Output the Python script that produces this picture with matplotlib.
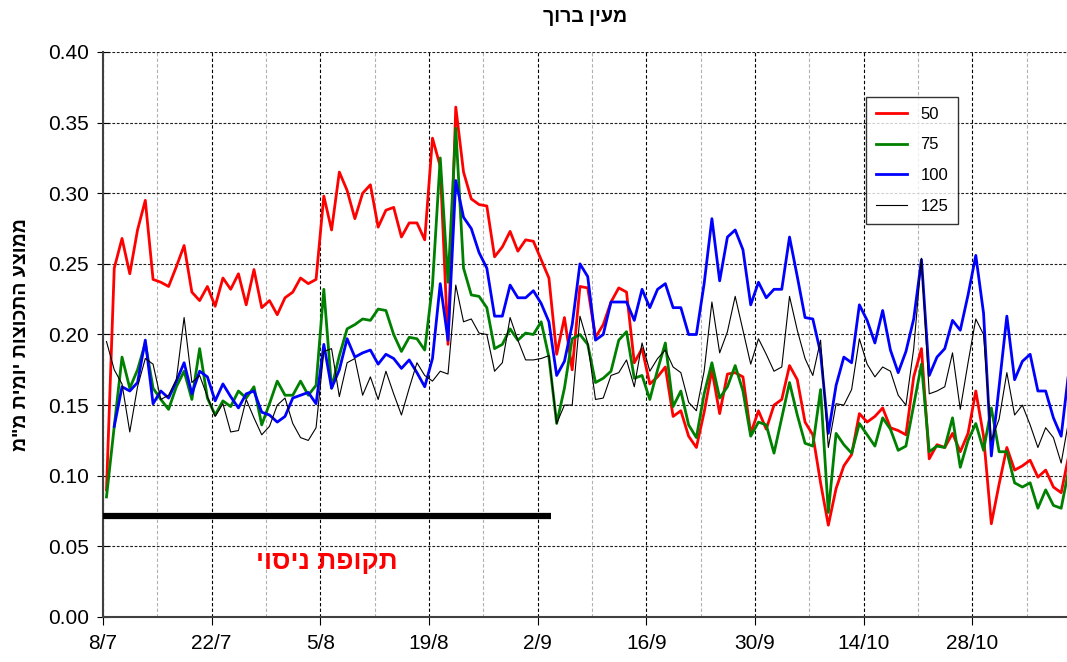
import numpy as np
import matplotlib
matplotlib.use("Agg")
import matplotlib.pyplot as plt
from matplotlib.ticker import MultipleLocator, FixedLocator

plt.rcParams['font.family'] = ['Liberation Sans', 'DejaVu Sans']

title = "מעין ברוך"
ylabel = 'ממוצע התכוצות יומית מ"מ'
period_label = "תקופת ניסוי"
series_names = ["50", "75", "100", "125"]
tick_labels = ["8/7", "22/7", "5/8", "19/8", "2/9", "16/9", "30/9", "14/10", "28/10"]

s50 = [0.090, 0.247, 0.268, 0.243, 0.274, 0.295, 0.239, 0.237, 0.234, 0.248,
       0.263, 0.230, 0.224, 0.234, 0.220, 0.240, 0.232, 0.243, 0.221, 0.246,
       0.219, 0.224, 0.214, 0.226, 0.230, 0.240, 0.236, 0.239, 0.298, 0.274,
       0.315, 0.302, 0.282, 0.300, 0.306, 0.276, 0.288, 0.290, 0.269, 0.279,
       0.279, 0.267, 0.339, 0.319, 0.193, 0.361, 0.315, 0.296, 0.292, 0.291,
       0.255, 0.262, 0.273, 0.259, 0.267, 0.266, 0.253, 0.240, 0.186, 0.212,
       0.175, 0.234, 0.233, 0.198, 0.207, 0.223, 0.233, 0.230, 0.180, 0.190,
       0.165, 0.170, 0.177, 0.142, 0.146, 0.128, 0.120, 0.145, 0.175, 0.144,
       0.172, 0.173, 0.170, 0.130, 0.146, 0.133, 0.150, 0.154, 0.178, 0.168,
       0.138, 0.129, 0.095, 0.065, 0.091, 0.107, 0.115, 0.144, 0.138, 0.142,
       0.148, 0.134, 0.132, 0.129, 0.170, 0.190, 0.112, 0.122, 0.120, 0.130,
       0.117, 0.130, 0.160, 0.128, 0.066, 0.094, 0.120, 0.104, 0.107, 0.111,
       0.099, 0.104, 0.092, 0.088, 0.115]

s75 = [0.085, 0.135, 0.184, 0.162, 0.175, 0.194, 0.162, 0.154, 0.147, 0.163,
       0.174, 0.154, 0.190, 0.155, 0.143, 0.153, 0.149, 0.160, 0.155, 0.163,
       0.136, 0.151, 0.167, 0.157, 0.157, 0.167, 0.157, 0.164, 0.232, 0.162,
       0.185, 0.204, 0.207, 0.211, 0.210, 0.218, 0.217, 0.200, 0.188, 0.198,
       0.197, 0.189, 0.235, 0.325, 0.237, 0.346, 0.247, 0.228, 0.227, 0.219,
       0.190, 0.193, 0.204, 0.196, 0.201, 0.200, 0.209, 0.184, 0.137, 0.162,
       0.197, 0.200, 0.193, 0.166, 0.169, 0.174, 0.196, 0.202, 0.169, 0.171,
       0.154, 0.175, 0.194, 0.149, 0.160, 0.136, 0.127, 0.158, 0.180, 0.155,
       0.163, 0.178, 0.160, 0.128, 0.138, 0.136, 0.116, 0.141, 0.166, 0.143,
       0.123, 0.121, 0.161, 0.074, 0.130, 0.122, 0.116, 0.137, 0.129, 0.121,
       0.141, 0.133, 0.118, 0.121, 0.150, 0.179, 0.117, 0.121, 0.120, 0.141,
       0.106, 0.125, 0.137, 0.118, 0.148, 0.117, 0.117, 0.095, 0.092, 0.095,
       0.077, 0.090, 0.079, 0.077, 0.105]

s100 = [np.nan, 0.135, 0.163, 0.160, 0.166, 0.196, 0.151, 0.160, 0.155, 0.167,
        0.180, 0.158, 0.174, 0.170, 0.153, 0.165, 0.156, 0.148, 0.158, 0.160,
        0.145, 0.143, 0.138, 0.142, 0.155, 0.157, 0.159, 0.151, 0.193, 0.162,
        0.175, 0.197, 0.184, 0.187, 0.189, 0.179, 0.186, 0.183, 0.176, 0.182,
        0.173, 0.163, 0.183, 0.236, 0.196, 0.309, 0.283, 0.275, 0.258, 0.247,
        0.213, 0.213, 0.235, 0.226, 0.226, 0.231, 0.222, 0.209, 0.171, 0.181,
        0.207, 0.250, 0.241, 0.196, 0.200, 0.223, 0.223, 0.223, 0.210, 0.232,
        0.219, 0.232, 0.236, 0.219, 0.219, 0.200, 0.200, 0.236, 0.282, 0.238,
        0.269, 0.274, 0.260, 0.221, 0.237, 0.226, 0.232, 0.232, 0.269, 0.241,
        0.212, 0.211, 0.187, 0.130, 0.164, 0.184, 0.180, 0.221, 0.210, 0.194,
        0.217, 0.189, 0.173, 0.188, 0.211, 0.253, 0.171, 0.184, 0.190, 0.210,
        0.203, 0.228, 0.256, 0.215, 0.114, 0.163, 0.213, 0.168, 0.181, 0.186,
        0.160, 0.160, 0.141, 0.128, 0.175]

s125 = [0.195, 0.175, 0.165, 0.131, 0.163, 0.183, 0.179, 0.154, 0.157, 0.168,
        0.212, 0.166, 0.171, 0.156, 0.142, 0.151, 0.131, 0.132, 0.154, 0.141,
        0.129, 0.135, 0.150, 0.155, 0.137, 0.127, 0.125, 0.134, 0.188, 0.190,
        0.156, 0.180, 0.183, 0.157, 0.170, 0.154, 0.174, 0.158, 0.143, 0.162,
        0.180, 0.171, 0.167, 0.174, 0.172, 0.235, 0.209, 0.211, 0.201, 0.200,
        0.174, 0.180, 0.212, 0.196, 0.182, 0.182, 0.183, 0.185, 0.137, 0.150,
        0.150, 0.213, 0.194, 0.154, 0.155, 0.171, 0.173, 0.182, 0.163, 0.194,
        0.174, 0.183, 0.189, 0.177, 0.173, 0.152, 0.146, 0.174, 0.223, 0.187,
        0.202, 0.227, 0.203, 0.179, 0.197, 0.186, 0.174, 0.177, 0.227, 0.203,
        0.183, 0.171, 0.196, 0.120, 0.151, 0.150, 0.161, 0.197, 0.179, 0.170,
        0.177, 0.174, 0.157, 0.150, 0.190, 0.254, 0.158, 0.160, 0.163, 0.187,
        0.147, 0.180, 0.211, 0.200, 0.125, 0.140, 0.173, 0.143, 0.150, 0.136,
        0.120, 0.134, 0.127, 0.109, 0.140]

period_start_day = 0.0
period_end_day = 57.7
period_level = 0.0715

days = np.arange(len(s50)) + 0.45

def rtl(s):
    return s[::-1]

fig = plt.figure(figsize=(10.67, 6.62), dpi=100)
ax = fig.add_axes([103/1067, 1-617/662, 964/1067, 565/662])

colors = ["#FF0000", "#008000", "#0000FF", "#000000"]
widths = [2.0, 2.0, 2.0, 0.8]
for vals, c, w, name in zip([s50, s75, s100, s125], colors, widths, series_names):
    ax.plot(days, vals, color=c, lw=w, label=name, zorder=3)

ax.set_xlim(0, 124.2)
ax.set_ylim(0, 0.40)
ax.yaxis.set_major_locator(MultipleLocator(0.05))
ax.yaxis.set_major_formatter(matplotlib.ticker.FormatStrFormatter('%.2f'))
ax.xaxis.set_major_locator(FixedLocator(np.arange(0, 113, 14)))
ax.set_xticklabels(tick_labels)
ax.xaxis.set_minor_locator(FixedLocator(np.arange(7, 124, 14)))

ax.grid(axis='y', which='major', color='#202020', linestyle=(0, (2.5, 1.5)), lw=0.8)
ax.grid(axis='x', which='major', color='black', linestyle=(0, (3, 2)), lw=0.8)
ax.grid(axis='x', which='minor', color='#b0b0b0', linestyle=(0, (3, 2)), lw=0.8)
ax.set_axisbelow(True)

for sp in ['top', 'right']:
    ax.spines[sp].set_visible(False)
ax.spines['left'].set_color('#404040')
ax.spines['left'].set_linewidth(1.5)
ax.spines['bottom'].set_color('#404040')
ax.spines['bottom'].set_linewidth(1.5)

ax.tick_params(axis='y', which='major', direction='inout', length=8, labelsize=15, pad=6)
ax.tick_params(axis='x', which='major', direction='out', length=6, labelsize=15, pad=6)
ax.tick_params(axis='x', which='minor', length=0)

ax.plot([period_start_day, period_end_day], [period_level, period_level],
        color='black', lw=4.5, solid_capstyle='butt', zorder=4, clip_on=False)
ax.text(28.8, 0.039, rtl(period_label), color='#FF0000',
        fontsize=19, fontweight='bold', ha='center', va='center')

fig.text(585/1067, 1-18/662, rtl(title), fontsize=14, fontweight='bold',
         ha='center', va='center')
fig.text(22/1067, 0.495, rtl(ylabel), fontsize=14, fontweight='bold',
         rotation=90, ha='center', va='center')

leg = ax.legend(loc='upper left', bbox_to_anchor=(0.791, 0.921), borderaxespad=0,
                fontsize=12, frameon=True, fancybox=False, handlelength=1.9,
                labelspacing=0.95, borderpad=0.6, handletextpad=0.8)
leg.get_frame().set_edgecolor('black')
leg.get_frame().set_linewidth(1.0)
leg.set_zorder(5)

fig.savefig("out.png", dpi=100)
